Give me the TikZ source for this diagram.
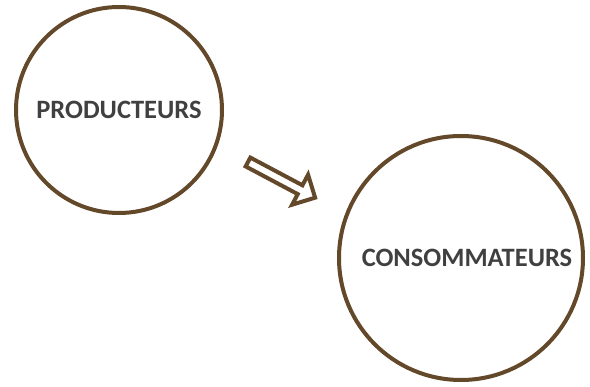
\documentclass[tikz,border=0pt]{standalone}
\usepackage{fontspec}
\setmainfont{Carlito}
\usepackage{tikz}
\usetikzlibrary{calc}
\definecolor{brun}{RGB}{99,72,42}
\definecolor{gristexte}{RGB}{64,64,64}
\tikzset{
  cercle/.style={circle, draw=brun, line width=4pt, fill=white,
    font=\fontsize{26.5}{30}\selectfont\bfseries, text=gristexte, inner sep=0pt},
  fleche/.style={draw=brun, line width=4pt, fill=white, line join=miter}
}
\begin{document}
\begin{tikzpicture}[x=1pt,y=-1pt]
  \useasboundingbox (0,0) rectangle (590,387);
  % les deux cercles
  \node[cercle, minimum size=206pt] (prod) at (119,110) {PRODUCTEURS};
  \node[cercle, minimum size=244pt] (cons) at (461,258) {\hspace*{12pt}CONSOMMATEURS};
  % fleche creuse entre les deux
  \coordinate (queue) at (248,162);
  \begin{scope}[shift={(queue)}, rotate=-28]
    \draw[fleche] (0,-5) -- (59,-5) -- (59,-17) -- (76,0) -- (59,17) -- (59,5) -- (0,5) -- cycle;
  \end{scope}
\end{tikzpicture}
\end{document}
